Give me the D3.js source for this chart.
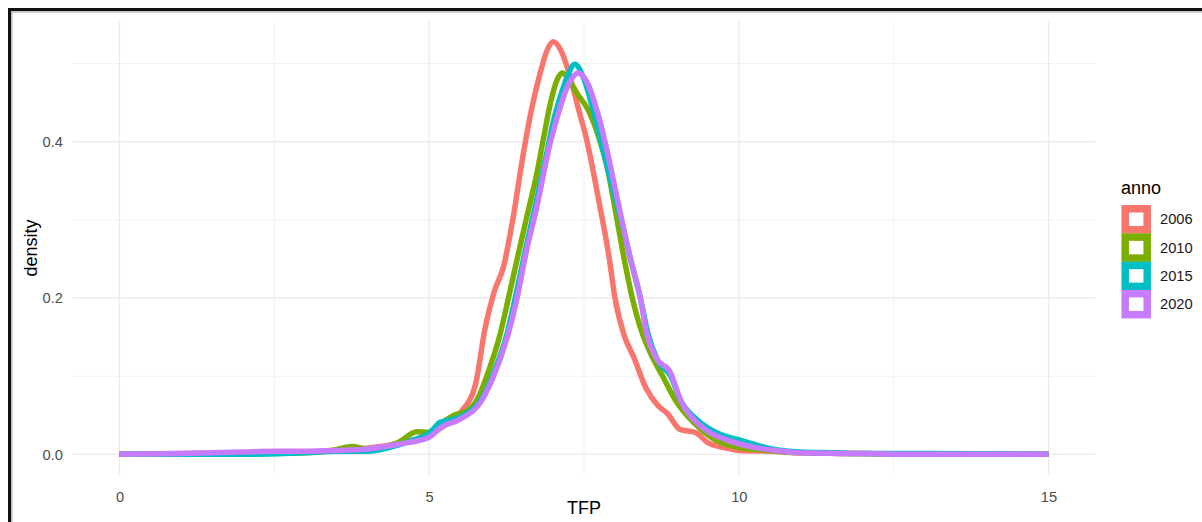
<!DOCTYPE html>
<html>
<head>
<meta charset="utf-8">
<script src="https://cdn.jsdelivr.net/npm/d3@7"></script>
<style>
  body { margin: 0; background: #fff; }
  svg { display: block; font-family: "Liberation Sans", Arial, sans-serif; }
</style>
</head>
<body>
<svg width="1202" height="522"></svg>
<script>
// Data: density estimates, [TFP, density]
const years = ["2006", "2010", "2015", "2020"];
const colors = ["#F8766D", "#7CAE00", "#00BFC4", "#C77CFF"];

const dens2006 = [[0,0],[1,0.001],[2,0.002],[3,0.003],[3.5,0.005],[4,0.008],[4.5,0.014],[5,0.025],[5.25,0.037],[5.5,0.053],[5.75,0.09],[5.9,0.16],[6.05,0.208],[6.2,0.24],[6.35,0.3],[6.5,0.375],[6.65,0.44],[6.8,0.49],[6.9,0.516],[7.0,0.528],[7.12,0.518],[7.25,0.49],[7.4,0.445],[7.55,0.4],[7.75,0.32],[7.9,0.255],[8.0,0.2],[8.15,0.152],[8.3,0.125],[8.5,0.085],[8.7,0.062],[8.85,0.052],[9.05,0.032],[9.3,0.028],[9.5,0.015],[9.8,0.008],[10,0.005],[10.5,0.004],[11,0.002],[12,0.001],[13,0],[15,0]];
const dens2010 = [[0,0],[1,0],[2,0.001],[3,0.002],[3.5,0.006],[3.75,0.01],[4,0.007],[4.5,0.015],[4.8,0.029],[5,0.028],[5.2,0.04],[5.4,0.05],[5.6,0.055],[5.77,0.069],[5.93,0.1],[6.15,0.155],[6.28,0.2],[6.45,0.26],[6.58,0.305],[6.74,0.36],[6.85,0.406],[6.96,0.45],[7.07,0.48],[7.15,0.488],[7.25,0.48],[7.4,0.46],[7.55,0.443],[7.72,0.41],[7.88,0.365],[8.0,0.315],[8.12,0.262],[8.28,0.2],[8.44,0.155],[8.6,0.125],[8.77,0.1],[8.98,0.069],[9.28,0.04],[9.55,0.022],[9.98,0.009],[10.5,0.005],[11,0.002],[12,0.001],[13,0],[15,0]];
const dens2015 = [[0,0],[1,0],[2,0],[3,0.002],[3.5,0.004],[4,0.004],[4.5,0.012],[4.8,0.02],[5,0.027],[5.18,0.041],[5.4,0.045],[5.55,0.05],[5.83,0.069],[6.02,0.1],[6.26,0.155],[6.39,0.2],[6.55,0.26],[6.72,0.32],[6.9,0.386],[7.0,0.424],[7.12,0.458],[7.23,0.483],[7.35,0.499],[7.5,0.48],[7.66,0.437],[7.82,0.386],[7.98,0.335],[8.1,0.3],[8.25,0.25],[8.41,0.2],[8.53,0.155],[8.69,0.12],[8.9,0.1],[9.06,0.069],[9.33,0.044],[9.66,0.027],[10.03,0.018],[10.47,0.008],[11,0.003],[11.6,0.002],[12,0.001],[13,0.001],[15,0]];
const dens2020 = [[0,0],[1,0.001],[2,0.003],[2.5,0.004],[3,0.004],[3.5,0.005],[4,0.007],[4.5,0.013],[5,0.022],[5.2,0.035],[5.5,0.045],[5.85,0.069],[6.04,0.1],[6.28,0.155],[6.42,0.2],[6.57,0.26],[6.72,0.31],[6.96,0.4],[7.12,0.445],[7.23,0.47],[7.41,0.488],[7.55,0.476],[7.72,0.437],[7.88,0.386],[8.04,0.326],[8.25,0.25],[8.41,0.2],[8.51,0.155],[8.66,0.124],[8.9,0.104],[9.06,0.069],[9.28,0.044],[9.55,0.027],[9.82,0.018],[10.25,0.009],[10.7,0.004],[11,0.002],[12,0.001],[13,0],[15,0]];

const xTicks = [0, 5, 10, 15];
const yTicks = [0, 0.2, 0.4];
const xMinor = [2.5, 7.5, 12.5];
const yMinor = [0.1, 0.3, 0.5];

const series = years.map((y, i) => ({ year: y, color: colors[i], values: [dens2006, dens2010, dens2015, dens2020][i] }));

const svg = d3.select("svg");

// outer frame (screenshot border)
svg.append("path").attr("d", "M9.5,522 V9.5 H1202").attr("fill", "none").attr("stroke", "#111").attr("stroke-width", 3);
svg.append("path").attr("d", "M11.8,522 V11.8 H1202").attr("fill", "none").attr("stroke", "#aaa").attr("stroke-width", 1.2);

const panel = { left: 73, right: 1095, top: 21, bottom: 475 };

const xScale = d3.scaleLinear().domain([-0.75, 15.75]).range([panel.left, panel.right]);
const yScale = d3.scaleLinear().domain([-0.0264, 0.5544]).range([panel.bottom, panel.top]);

const g = svg.append("g");

// Grid lines
g.append("g").selectAll("line.minx").data(xMinor).join("line")
    .attr("x1", d => xScale(d)).attr("x2", d => xScale(d))
    .attr("y1", panel.top).attr("y2", panel.bottom)
    .attr("stroke", "#f0f0f0").attr("stroke-width", 0.9);
g.append("g").selectAll("line.miny").data(yMinor).join("line")
    .attr("x1", panel.left).attr("x2", panel.right)
    .attr("y1", d => yScale(d)).attr("y2", d => yScale(d))
    .attr("stroke", "#f0f0f0").attr("stroke-width", 0.9);
g.append("g").selectAll("line.majx").data(xTicks).join("line")
    .attr("x1", d => xScale(d)).attr("x2", d => xScale(d))
    .attr("y1", panel.top).attr("y2", panel.bottom)
    .attr("stroke", "#ebebeb").attr("stroke-width", 1.4);
g.append("g").selectAll("line.majy").data(yTicks).join("line")
    .attr("x1", panel.left).attr("x2", panel.right)
    .attr("y1", d => yScale(d)).attr("y2", d => yScale(d))
    .attr("stroke", "#ebebeb").attr("stroke-width", 1.4);

// Axes (labels only)
const xAxis = g.append("g")
    .attr("transform", `translate(0,${panel.bottom})`)
    .call(d3.axisBottom(xScale).tickValues(xTicks).tickSize(0).tickPadding(17));
const yAxis = g.append("g")
    .attr("transform", `translate(${panel.left},0)`)
    .call(d3.axisLeft(yScale).tickValues(yTicks).tickFormat(d3.format(".1f")).tickSize(0).tickPadding(10));
[xAxis, yAxis].forEach(a => {
    a.select(".domain").remove();
    a.selectAll("text").attr("fill", "#4d4d4d").style("font-size", "14.7px").style("font-family", "Liberation Sans, Arial, sans-serif");
});

// Density lines
const line = d3.line()
    .x(d => xScale(d[0]))
    .y(d => yScale(d[1]))
    .curve(d3.curveMonotoneX);

g.append("g").selectAll("path").data(series).join("path")
    .attr("d", d => line(d.values))
    .attr("fill", "none")
    .attr("stroke", d => d.color)
    .attr("stroke-width", 5.5)
    .attr("stroke-linejoin", "round");

// Axis titles
svg.append("text")
    .attr("x", (panel.left + panel.right) / 2)
    .attr("y", 514)
    .attr("text-anchor", "middle")
    .style("font-size", "18px")
    .text("TFP");
svg.append("text")
    .attr("transform", `translate(37,${(panel.top + panel.bottom) / 2}) rotate(-90)`)
    .attr("text-anchor", "middle")
    .style("font-size", "18px")
    .text("density");

// Legend
const legend = svg.append("g").attr("transform", "translate(1121,194)");
legend.append("text").attr("x", 0).attr("y", 0).style("font-size", "18px").text("anno");
const rows = legend.selectAll("g.key").data(series).join("g")
    .attr("transform", (d, i) => `translate(0,${11 + i * 28.3})`);
rows.append("rect")
    .attr("x", 4.2).attr("y", 3.8)
    .attr("width", 22).attr("height", 21)
    .attr("fill", "#fff")
    .attr("stroke", d => d.color)
    .attr("stroke-width", 7.5);
rows.append("text")
    .attr("x", 39).attr("y", 14.3)
    .attr("dy", "0.35em")
    .style("font-size", "14.7px")
    .attr("fill", "#1a1a1a")
    .text(d => d.year);
</script>
</body>
</html>
